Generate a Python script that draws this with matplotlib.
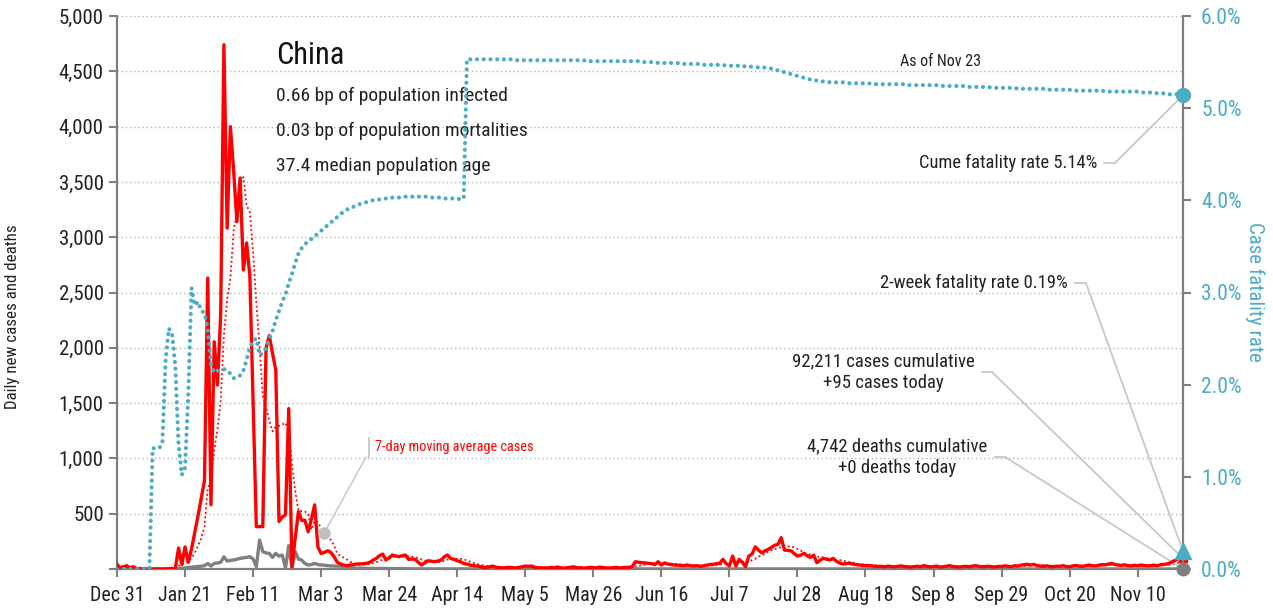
import pandas as pd
import matplotlib
matplotlib.use("Agg")
import matplotlib.pyplot as plt

plt.rcParams['font.family'] = ['Liberation Sans Narrow', 'Roboto Condensed', 'DejaVu Sans']

RED = '#ff0000'
GREY = '#7f7f7f'
CYAN = '#4bacc6'
LEAD = '#c8c8c8'

start_date = '2019-12-31'
end_date = '2020-11-24'

# daily new cases (Dec 31 .. Nov 24)
cases = [
    44, 5, 20, 30, 10, 20, 5, 0, 0, 0,
    0, 0, 0, 0, 0, 0, 4, 5, 5, 190,
    40, 200, 60, 180, 330, 480, 640, 800, 2630, 580,
    2055, 1664, 2300, 4740, 3083, 4000, 3600, 3140, 3535, 2703,
    2948, 2650, 1500, 383, 383, 383, 2000, 2110, 1950, 1800,
    430, 470, 490, 1450, 20, 280, 518, 440, 440, 337,
    450, 580, 200, 140, 150, 165, 150, 110, 60, 45,
    35, 30, 36, 40, 45, 45, 48, 51, 60, 80,
    96, 120, 135, 81, 102, 126, 118, 111, 120, 126,
    87, 90, 87, 60, 36, 55, 75, 70, 66, 72,
    81, 110, 126, 95, 87, 75, 66, 50, 45, 35,
    30, 27, 22, 15, 15, 20, 27, 15, 12, 10,
    12, 15, 12, 10, 15, 20, 27, 25, 27, 15,
    10, 12, 8, 10, 14, 12, 18, 10, 8, 12,
    15, 20, 10, 12, 8, 10, 15, 12, 10, 18,
    12, 10, 8, 12, 15, 10, 12, 14, 16, 20,
    66, 60, 58, 55, 51, 48, 40, 66, 35, 55,
    45, 40, 36, 35, 32, 30, 36, 30, 27, 30,
    25, 28, 35, 40, 42, 48, 51, 87, 50, 27,
    117, 27, 87, 60, 21, 117, 135, 201, 170, 147,
    165, 177, 195, 215, 223, 283, 171, 168, 165, 140,
    117, 125, 141, 120, 105, 126, 57, 80, 96, 88,
    81, 96, 70, 55, 45, 48, 51, 45, 40, 36,
    33, 30, 30, 28, 25, 22, 24, 20, 26, 22,
    20, 24, 28, 22, 20, 18, 22, 25, 20, 30,
    24, 20, 22, 26, 18, 20, 25, 30, 22, 20,
    18, 22, 24, 20, 26, 30, 24, 20, 22, 25,
    20, 18, 24, 22, 28, 25, 20, 30, 26, 35,
    38, 42, 36, 42, 30, 26, 24, 28, 22, 20,
    26, 24, 30, 22, 20, 28, 32, 26, 24, 30,
    36, 30, 28, 34, 40, 38, 45, 51, 40, 35,
    32, 38, 30, 28, 34, 30, 36, 32, 28, 30,
    35, 30, 38, 42, 45, 55, 70, 85, 99, 95,
]

# daily new deaths
deaths = [
    0, 0, 0, 0, 0, 0, 0, 0, 0, 0,
    0, 1, 0, 0, 0, 1, 1, 0, 0, 3,
    5, 10, 15, 15, 20, 22, 25, 30, 50, 27,
    50, 55, 60, 110, 72, 78, 81, 88, 96, 100,
    105, 111, 90, 21, 262, 157, 145, 141, 105, 141,
    117, 126, 10, 211, 10, 157, 90, 81, 50, 36,
    40, 51, 40, 36, 35, 30, 28, 27, 25, 27,
    15, 12, 10, 10, 8, 8, 7, 6, 6, 5,
    5, 4, 4, 4, 3, 3, 3, 3, 3, 2,
    2, 2, 2, 1, 1, 1, 1, 1, 1, 1,
    1, 0, 1, 0, 0, 1, 0, 0, 0, 0,
    0, 0, 0, 0, 0, 0, 0, 0, 0, 0,
    0, 0, 0, 0, 0, 0, 0, 0, 0, 0,
    0, 0, 0, 0, 0, 0, 0, 0, 0, 0,
    0, 0, 0, 0, 0, 0, 0, 0, 0, 0,
    0, 0, 0, 0, 0, 0, 0, 0, 0, 0,
    0, 0, 0, 0, 0, 0, 0, 0, 0, 0,
    0, 0, 0, 0, 0, 0, 0, 0, 0, 0,
    0, 0, 0, 0, 0, 0, 0, 0, 0, 0,
    0, 0, 0, 0, 0, 0, 0, 0, 0, 0,
    0, 0, 0, 0, 0, 0, 0, 0, 0, 0,
    0, 0, 0, 0, 0, 0, 0, 0, 0, 0,
    0, 0, 0, 0, 0, 0, 0, 0, 0, 0,
    0, 0, 0, 0, 0, 0, 0, 0, 0, 0,
    0, 0, 0, 0, 0, 0, 0, 0, 0, 0,
    0, 0, 0, 0, 0, 0, 0, 0, 0, 0,
    0, 0, 0, 0, 0, 0, 0, 0, 0, 0,
    0, 0, 0, 0, 0, 0, 0, 0, 0, 0,
    0, 0, 0, 0, 0, 0, 0, 0, 0, 0,
    0, 0, 0, 0, 0, 0, 0, 0, 0, 0,
    0, 0, 0, 0, 0, 0, 0, 0, 0, 0,
    0, 0, 0, 0, 0, 0, 0, 0, 0, 0,
    0, 0, 0, 0, 0, 0, 0, 0, 0, 0,
]

# cumulative case fatality rate, percent
cfr = [
    0, 0, 0, 0, 0, 0, 0, 0, 0, 0,
    0, 1.31, 1.31, 1.31, 1.36, 2.27, 2.61, 2.55, 2.2, 1.35,
    1.02, 1.1, 1.9, 3.05, 2.86, 2.9, 2.8, 2.78, 2.6, 2.22,
    2.13, 2.15, 2.16, 2.17, 2.15, 2.12, 2.07, 2.08, 2.1, 2.15,
    2.27, 2.4, 2.48, 2.5, 2.32, 2.34, 2.4, 2.5, 2.58, 2.7,
    2.8, 2.9, 2.98, 3.1, 3.2, 3.32, 3.42, 3.48, 3.52, 3.56,
    3.58, 3.61, 3.64, 3.67, 3.70, 3.73, 3.76, 3.79, 3.82, 3.85,
    3.88, 3.9, 3.92, 3.93, 3.95, 3.96, 3.97, 3.98, 3.99, 4.0,
    4.0, 4.01, 4.01, 4.02, 4.02, 4.03, 4.03, 4.03, 4.04, 4.04,
    4.04, 4.04, 4.04, 4.04, 4.04, 4.04, 4.04, 4.03, 4.03, 4.03,
    4.03, 4.02, 4.02, 4.02, 4.02, 4.02, 4.01, 4.02, 5.53, 5.53,
    5.53, 5.53, 5.53, 5.53, 5.53, 5.53, 5.53, 5.53, 5.53, 5.53,
    5.53, 5.53, 5.53, 5.52, 5.52, 5.52, 5.52, 5.52, 5.52, 5.52,
    5.52, 5.52, 5.52, 5.52, 5.52, 5.52, 5.52, 5.52, 5.52, 5.52,
    5.52, 5.52, 5.52, 5.52, 5.52, 5.51, 5.51, 5.51, 5.51, 5.51,
    5.51, 5.51, 5.51, 5.51, 5.51, 5.51, 5.51, 5.51, 5.51, 5.51,
    5.51, 5.51, 5.50, 5.50, 5.50, 5.50, 5.50, 5.49, 5.49, 5.49,
    5.49, 5.49, 5.49, 5.49, 5.48, 5.48, 5.48, 5.48, 5.48, 5.48,
    5.48, 5.47, 5.47, 5.47, 5.47, 5.47, 5.47, 5.47, 5.46, 5.46,
    5.46, 5.46, 5.46, 5.46, 5.45, 5.45, 5.45, 5.45, 5.44, 5.44,
    5.44, 5.43, 5.43, 5.42, 5.41, 5.40, 5.39, 5.38, 5.37, 5.36,
    5.35, 5.34, 5.33, 5.32, 5.31, 5.30, 5.30, 5.29, 5.29, 5.29,
    5.28, 5.28, 5.28, 5.28, 5.28, 5.27, 5.27, 5.27, 5.27, 5.27,
    5.27, 5.27, 5.27, 5.26, 5.26, 5.26, 5.26, 5.26, 5.26, 5.26,
    5.26, 5.26, 5.26, 5.26, 5.25, 5.25, 5.25, 5.25, 5.25, 5.25,
    5.25, 5.25, 5.25, 5.25, 5.25, 5.24, 5.24, 5.24, 5.24, 5.24,
    5.24, 5.24, 5.24, 5.23, 5.23, 5.23, 5.23, 5.23, 5.23, 5.23,
    5.22, 5.22, 5.22, 5.22, 5.22, 5.22, 5.22, 5.22, 5.21, 5.21,
    5.21, 5.21, 5.21, 5.21, 5.21, 5.21, 5.21, 5.20, 5.20, 5.20,
    5.20, 5.20, 5.20, 5.20, 5.20, 5.19, 5.19, 5.19, 5.19, 5.19,
    5.19, 5.19, 5.19, 5.19, 5.19, 5.18, 5.18, 5.18, 5.18, 5.18,
    5.18, 5.18, 5.18, 5.18, 5.18, 5.18, 5.17, 5.17, 5.17, 5.17,
    5.17, 5.16, 5.16, 5.16, 5.16, 5.15, 5.15, 5.15, 5.14, 5.14,
]

cfr_2week = 0.19
ma_label_day = 64

xtick_labels = ['Dec 31', 'Jan 21', 'Feb 11', 'Mar 3', 'Mar 24', 'Apr 14', 'May 5',
                'May 26', 'Jun 16', 'Jul 7', 'Jul 28', 'Aug 18', 'Sep 8', 'Sep 29',
                'Oct 20', 'Nov 10']

info_lines = ['0.66 bp of population infected',
              '0.03 bp of population mortalities',
              '37.4 median population age']

dates = pd.date_range(start_date, end_date, freq='D')
df = pd.DataFrame({'cases': cases, 'deaths': deaths, 'cfr': cfr}, index=dates)
df['ma7'] = df['cases'].rolling(7, min_periods=1).mean()

fig = plt.figure(figsize=(12.73, 6.08), dpi=100)
L, R, T, B = 117, 1183, 16, 569
ax = fig.add_axes([L / 1273, 1 - B / 608, (R - L) / 1273, (B - T) / 608])


def axf(px, py):
    # pixel position -> axes fraction
    return ((px - L) / (R - L), (B - py) / (B - T))


ax.plot(df.index, df['ma7'], color=RED, lw=1.3, ls=(0, (1, 1.5)), zorder=2)
ax.plot(df.index, df['deaths'], color=GREY, lw=2.4, zorder=3)
ax.plot(df.index, df['cases'], color=RED, lw=2.4, zorder=4)

ax.set_xlim(dates[0], dates[-1])
ax.set_ylim(0, 5000)
yt = list(range(0, 5001, 500))
ax.set_yticks(yt)
ax.set_yticklabels(['' if v == 0 else f'{v:,}' for v in yt])
ax.set_xticks(pd.date_range(start_date, periods=len(xtick_labels), freq='21D'))
ax.set_xticklabels(xtick_labels)
ax.yaxis.grid(True, color='#b4b4b4', lw=1, ls=(0, (1, 2)))
ax.set_axisbelow(True)

for s in ['top', 'right']:
    ax.spines[s].set_visible(False)
for s in ['left', 'bottom']:
    ax.spines[s].set_color(GREY)
    ax.spines[s].set_linewidth(1.6)
ax.tick_params(axis='y', length=6, width=1.5, color=GREY, labelsize=15, labelcolor='#222222')
ax.tick_params(axis='x', length=6, width=1.5, color=GREY, labelsize=14.5, labelcolor='#222222', pad=6)
ax.set_ylabel('Daily new cases and deaths', fontsize=12.2, color='#222222')
ax.yaxis.set_label_coords(axf(20, 0)[0], axf(0, 317)[1])

ax2 = ax.twinx()
ax2.plot(df.index, df['cfr'], color=CYAN, lw=3, ls=(0, (0.01, 1.6)),
         dash_capstyle='round', zorder=3)
ax2.set_ylim(0, 6)
ax2.set_yticks(range(0, 7))
ax2.set_yticklabels([f'{v:.1f}%' for v in range(0, 7)])
for s in ['top', 'left', 'bottom']:
    ax2.spines[s].set_visible(False)
ax2.spines['right'].set_color(GREY)
ax2.spines['right'].set_linewidth(1.6)
ax2.tick_params(axis='y', length=6, width=1.5, color=GREY, labelsize=15.5, labelcolor=CYAN, pad=7)
ax2.set_ylabel('Case fatality rate', fontsize=15, color=CYAN, rotation=-90, va='center')
ax2.yaxis.set_label_coords(axf(1255, 0)[0], axf(0, 292)[1])

# end-of-series markers
ax.plot(dates[-1], df['cases'].iloc[-1], 's', color=RED, ms=6, clip_on=False, zorder=6)
ax.plot(dates[-1], df['deaths'].iloc[-1], 'o', color=GREY, ms=9, clip_on=False, zorder=6)
ax2.plot(dates[-1], df['cfr'].iloc[-1], 'o', color=CYAN, ms=10, clip_on=False, zorder=6)
ax2.plot(dates[-1], cfr_2week, '^', color=CYAN, ms=11, clip_on=False, zorder=6)

# title block
ax.text(*axf(276, 56), 'China', transform=ax.transAxes, fontsize=22,
        ha='left', va='center', color='#111111')
for i, line in enumerate(info_lines):
    ax.text(*axf(276, 96 + 35 * i), line, transform=ax.transAxes, fontsize=14,
            ha='left', va='center', color='#222222')


def leader(axis, x0, x1, py, xy):
    p0, p1 = axf(x0, py), axf(x1, py)
    ax.plot([p0[0], p1[0]], [p0[1], p1[1]], transform=ax.transAxes,
            color=LEAD, lw=1.3, clip_on=False)
    axis.annotate('', xy=xy, xycoords='data', xytext=p1, textcoords='axes fraction',
                  annotation_clip=False,
                  arrowprops=dict(arrowstyle='-', color=LEAD, lw=1.3, shrinkA=0, shrinkB=0))


ax.text(*axf(941, 61), 'As of Nov 23', transform=ax.transAxes, fontsize=11.5,
        ha='center', va='center', color='#222222')

ax.text(*axf(1097, 163), 'Cume fatality rate 5.14%', transform=ax.transAxes,
        fontsize=13.3, ha='right', va='center', color='#222222')
leader(ax2, 1104, 1115, 163, (dates[-1], df['cfr'].iloc[-1]))

ax.text(*axf(1068, 283), '2-week fatality rate 0.19%', transform=ax.transAxes,
        fontsize=13.3, ha='right', va='center', color='#222222')
leader(ax2, 1075, 1086, 283, (dates[-1], cfr_2week))

ax.text(*axf(883, 372), '92,211 cases cumulative\n+95 cases today', transform=ax.transAxes,
        fontsize=13.5, ha='center', va='center', color='#222222', linespacing=1.25)
leader(ax, 982, 992, 372, (dates[-1], df['cases'].iloc[-1]))

ax.text(*axf(897, 457), '4,742 deaths cumulative\n+0 deaths today', transform=ax.transAxes,
        fontsize=13.5, ha='center', va='center', color='#222222', linespacing=1.25)
leader(ax, 995, 1005, 457, (dates[-1], df['deaths'].iloc[-1]))

# 7-day average callout
ma_date = dates[ma_label_day]
ma_val = df['ma7'].iloc[ma_label_day]
ax.plot(ma_date, ma_val, 'o', color='#c0c0c0', ms=8, zorder=5)
ax.annotate('', xy=(ma_date, ma_val), xycoords='data', xytext=axf(366, 457),
            textcoords='axes fraction',
            arrowprops=dict(arrowstyle='-', color=LEAD, lw=1.1, shrinkA=0, shrinkB=0))
b0, b1 = axf(369, 438), axf(369, 458)
ax.plot([b0[0], b1[0]], [b0[1], b1[1]], transform=ax.transAxes, color=LEAD, lw=1.3)
ax.text(*axf(375, 447), '7-day moving average cases', transform=ax.transAxes,
        fontsize=10.3, ha='left', va='center', color=RED)

fig.savefig('out.png', dpi=100)
